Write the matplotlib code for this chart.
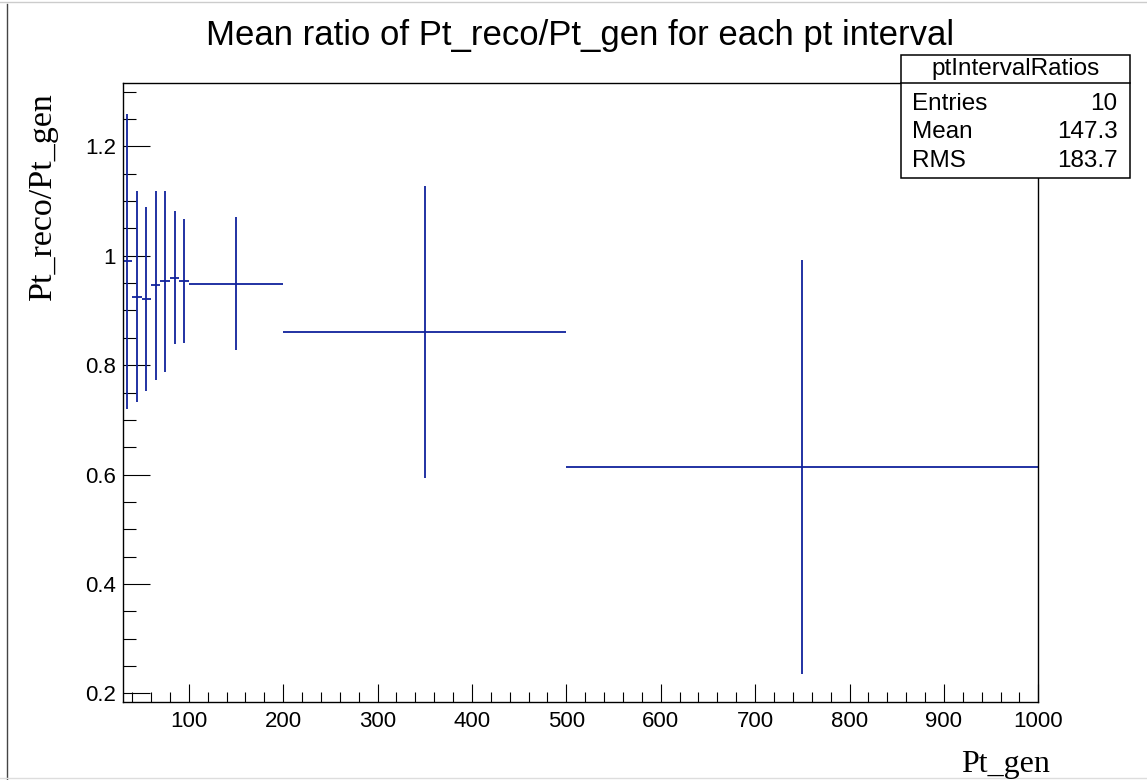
import matplotlib
matplotlib.use('Agg')
import matplotlib.pyplot as plt
import numpy as np
from matplotlib.lines import Line2D
from matplotlib.patches import Rectangle
from matplotlib.ticker import MultipleLocator, FuncFormatter

# pt bin edges and the mean reco/gen ratio in each bin
bin_edges = [30, 40, 50, 60, 70, 80, 90, 100, 200, 500, 1000]
ratios = [0.990, 0.925, 0.921, 0.946, 0.953, 0.960, 0.9545, 0.949, 0.861, 0.614]
errors = [0.270, 0.193, 0.168, 0.173, 0.165, 0.122, 0.1135, 0.122, 0.267, 0.379]

hist_name = 'ptIntervalRatios'
line_color = '#10229c'

edges = np.array(bin_edges, dtype=float)
centers = 0.5 * (edges[1:] + edges[:-1])
half_w = 0.5 * (edges[1:] - edges[:-1])
w = np.array(ratios)

# stats box numbers, weighted by bin content like TH1 does
n_entries = len(ratios)
mean = np.sum(w * centers) / np.sum(w)
rms = np.sqrt(np.sum(w * centers ** 2) / np.sum(w) - mean ** 2)

W, H = 1147, 780
fig = plt.figure(figsize=(W / 100, H / 100), dpi=100)
ax = fig.add_axes([122.7 / W, 1 - 701.7 / H, 915.6 / W, 618.4 / H])

ax.errorbar(centers, ratios, xerr=half_w, yerr=errors, fmt='none',
            ecolor=line_color, elinewidth=1.3, capsize=0)

ax.set_xlim(30, 1000)
ax.set_ylim(0.1847, 1.3153)

ax.xaxis.set_major_locator(MultipleLocator(100))
ax.xaxis.set_minor_locator(MultipleLocator(20))
ax.yaxis.set_major_locator(MultipleLocator(0.2))
ax.yaxis.set_minor_locator(MultipleLocator(0.05))
ax.yaxis.set_major_formatter(FuncFormatter(lambda v, p: f'{v:g}'))

ax.tick_params(axis='both', which='both', direction='in', width=0.8,
               top=False, right=False, labelsize=16)
ax.tick_params(axis='x', which='major', length=13, pad=7)
ax.tick_params(axis='x', which='minor', length=7)
ax.tick_params(axis='y', which='major', length=19.5, pad=5)
ax.tick_params(axis='y', which='minor', length=9.5)
for lab in ax.get_xticklabels() + ax.get_yticklabels():
    lab.set_family('Liberation Sans')
for sp in ax.spines.values():
    sp.set_linewidth(1.0)

fig.text(580 / W, 1 - 45 / H, 'Mean ratio of Pt_reco/Pt_gen for each pt interval',
         ha='center', va='baseline', fontsize=25, family='Liberation Sans')
fig.text(1050 / W, 1 - 772 / H, 'Pt_gen', ha='right', va='baseline',
         fontsize=23, family='Liberation Serif')
fig.text(43 / W, 1 - 92 / H, 'Pt_reco/Pt_gen', rotation=90, ha='center', va='top',
         fontsize=24.5, family='Liberation Serif')

# stats box
x0, x1, y0, y1, ysep = 901, 1130, 55, 178, 83.3
fig.patches.append(Rectangle((x0 / W, 1 - y1 / H), (x1 - x0) / W, (y1 - y0) / H,
                             transform=fig.transFigure, facecolor='white',
                             edgecolor='black', linewidth=1.1, zorder=5))
fig.lines.append(Line2D([x0 / W, x1 / W], [1 - ysep / H] * 2, transform=fig.transFigure,
                        color='black', linewidth=1.1, zorder=6))
fig.text((x0 + x1) / 2 / W, 1 - 69.5 / H, hist_name, ha='center', va='center',
         fontsize=17.5, family='Liberation Sans', zorder=7)
rows = [('Entries', f'{n_entries:d}'), ('Mean', f'{mean:.1f}'), ('RMS', f'{rms:.1f}')]
for i, (name, val) in enumerate(rows):
    yy = 1 - (104 + 28.5 * i) / H
    fig.text(912.5 / W, yy, name, ha='left', va='center', fontsize=17.5,
             family='Liberation Sans', zorder=7)
    fig.text(1117.5 / W, yy, val, ha='right', va='center', fontsize=17.5,
             family='Liberation Sans', zorder=7)

# canvas window edges
fig.lines.append(Line2D([7.5 / W] * 2, [0, 1 - 4 / H], transform=fig.transFigure,
                        color='#444444', linewidth=1.0))
fig.lines.append(Line2D([0, 1], [1 - 1.5 / H] * 2, transform=fig.transFigure,
                        color='#cccccc', linewidth=1.0))
fig.lines.append(Line2D([0, 1], [1 - 778 / H] * 2, transform=fig.transFigure,
                        color='#dddddd', linewidth=1.0))

fig.savefig('out.png', dpi=100)
